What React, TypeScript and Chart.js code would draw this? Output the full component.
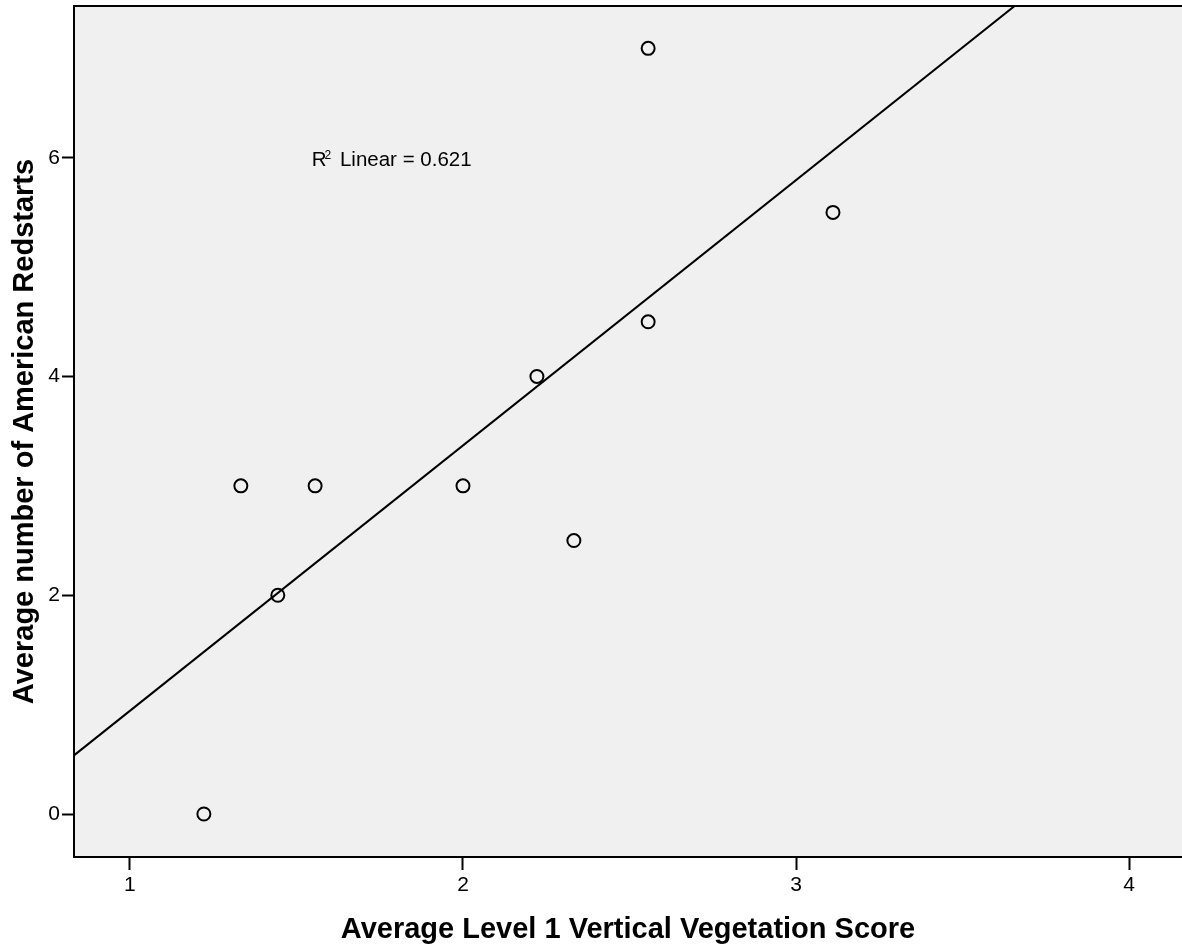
import React, { useEffect, useRef } from "react";
import { Chart, registerables } from "chart.js";

Chart.register(...registerables);

// Average Level 1 Vertical Vegetation Score
const VEG_SCORE = [1.222, 1.333, 1.444, 1.556, 2.0, 2.222, 2.333, 2.556, 2.556, 3.111];
// Average number of American Redstarts
const REDSTARTS = [0.0, 3.0, 2.0, 3.0, 3.0, 4.0, 2.5, 4.5, 7.0, 5.5];

const X_TICKS = [1, 2, 3, 4];
const Y_TICKS = [0, 2, 4, 6];
const X_RANGE = [0.832, 4.159];
const Y_RANGE = [-0.393, 7.387];

const X_TITLE = "Average Level 1 Vertical Vegetation Score";
const Y_TITLE = "Average number of American Redstarts";
const R2_LABEL = "0.621";
const R2_POS = { x: 1.546, y: 5.923 };

const FONT = '"Liberation Sans", Arial, Helvetica, sans-serif';

function linearFit(xs: number[], ys: number[]) {
  const n = xs.length;
  const mx = xs.reduce((a, b) => a + b, 0) / n;
  const my = ys.reduce((a, b) => a + b, 0) / n;
  let sxy = 0;
  let sxx = 0;
  for (let i = 0; i < n; i++) {
    sxy += (xs[i] - mx) * (ys[i] - my);
    sxx += (xs[i] - mx) * (xs[i] - mx);
  }
  const slope = sxy / sxx;
  return { slope, intercept: my - slope * mx };
}

const bgPlugin = {
  id: "plotBg",
  beforeDraw(chart: any) {
    const { ctx, chartArea } = chart;
    ctx.save();
    ctx.fillStyle = "#f0f0f0";
    ctx.fillRect(chartArea.left, chartArea.top, chartArea.right - chartArea.left, chartArea.bottom - chartArea.top);
    ctx.restore();
  },
  afterDraw(chart: any) {
    const { ctx, chartArea, scales } = chart;
    ctx.save();
    // top frame line
    ctx.strokeStyle = "#000";
    ctx.lineWidth = 2;
    ctx.beginPath();
    ctx.moveTo(chartArea.left, chartArea.top);
    ctx.lineTo(chartArea.right, chartArea.top);
    ctx.stroke();
    // R² annotation
    const x0 = scales.x.getPixelForValue(R2_POS.x);
    const y0 = scales.y.getPixelForValue(R2_POS.y);
    ctx.fillStyle = "#000";
    ctx.textBaseline = "alphabetic";
    ctx.textAlign = "left";
    ctx.font = `20.5px ${FONT}`;
    ctx.fillText("R", x0, y0);
    const rw = ctx.measureText("R").width;
    ctx.font = `12px ${FONT}`;
    ctx.fillText("2", x0 + rw - 2, y0 - 7);
    const sw = ctx.measureText("2").width;
    ctx.font = `20.5px ${FONT}`;
    ctx.fillText(` Linear = ${R2_LABEL}`, x0 + rw - 2 + sw + 3, y0);
    ctx.restore();
  },
};

export default function App() {
  const ref = useRef<HTMLCanvasElement | null>(null);

  useEffect(() => {
    document.body.style.margin = "0";
    const canvas = ref.current;
    if (!canvas) return;
    const fit = linearFit(VEG_SCORE, REDSTARTS);
    const lineData = X_RANGE.map((x) => ({ x, y: fit.intercept + fit.slope * x }));
    const points = VEG_SCORE.map((x, i) => ({ x, y: REDSTARTS[i] }));

    const chart = new Chart(canvas, {
      type: "scatter",
      data: {
        datasets: [
          {
            type: "line",
            data: lineData,
            borderColor: "#000",
            borderWidth: 2,
            pointRadius: 0,
            fill: false,
            clip: 0,
          } as any,
          {
            type: "scatter",
            data: points,
            pointStyle: "circle",
            pointRadius: 6.5,
            borderWidth: 2,
            borderColor: "#000",
            backgroundColor: "rgba(0,0,0,0)",
          },
        ],
      },
      options: {
        responsive: false,
        animation: false,
        devicePixelRatio: 1,
        layout: { autoPadding: false, padding: { top: 6, right: 0, left: 0, bottom: 0 } },
        plugins: { legend: { display: false }, tooltip: { enabled: false } },
        scales: {
          x: {
            type: "linear",
            min: X_RANGE[0],
            max: X_RANGE[1],
            afterBuildTicks: (s: any) => {
              s.ticks = X_TICKS.map((v) => ({ value: v }));
            },
            afterFit: (s: any) => {
              s.height = 91;
              s.paddingLeft = 0;
              s.paddingRight = 0;
              s.paddingTop = 0;
              s.paddingBottom = 0;
            },
            grid: {
              display: true,
              drawOnChartArea: false,
              drawTicks: true,
              tickLength: 13,
              tickColor: "#000",
              tickWidth: 2,
            },
            border: { display: true, color: "#000", width: 2 },
            ticks: {
              color: "#000",
              font: { family: FONT, size: 21 },
              padding: 3,
              maxRotation: 0,
              callback: (v: any) => String(v),
            },
            title: {
              display: true,
              text: X_TITLE,
              color: "#000",
              font: { family: FONT, size: 29, weight: "bold" },
              padding: { top: 0, bottom: 1 },
            },
          },
          y: {
            type: "linear",
            min: Y_RANGE[0],
            max: Y_RANGE[1],
            afterBuildTicks: (s: any) => {
              s.ticks = Y_TICKS.map((v) => ({ value: v }));
            },
            afterFit: (s: any) => {
              s.width = 74;
              s.paddingLeft = 0;
              s.paddingRight = 0;
              s.paddingTop = 0;
              s.paddingBottom = 0;
            },
            grid: {
              display: true,
              drawOnChartArea: false,
              drawTicks: true,
              tickLength: 12,
              tickColor: "#000",
              tickWidth: 2,
            },
            border: { display: true, color: "#000", width: 2 },
            ticks: {
              color: "#000",
              font: { family: FONT, size: 21 },
              padding: 2,
              callback: (v: any) => String(v),
            },
            title: {
              display: true,
              text: Y_TITLE,
              color: "#000",
              font: { family: FONT, size: 29, weight: "bold" },
              padding: { top: 8, bottom: 0 },
            },
          },
        },
      },
      plugins: [bgPlugin],
    });
    return () => chart.destroy();
  }, []);

  return (
    <div style={{ position: "absolute", left: 0, top: 0, width: 1182, height: 948, background: "#fff" }}>
      <canvas ref={ref} width={1182} height={948} style={{ width: 1182, height: 948, display: "block" }} />
    </div>
  );
}
